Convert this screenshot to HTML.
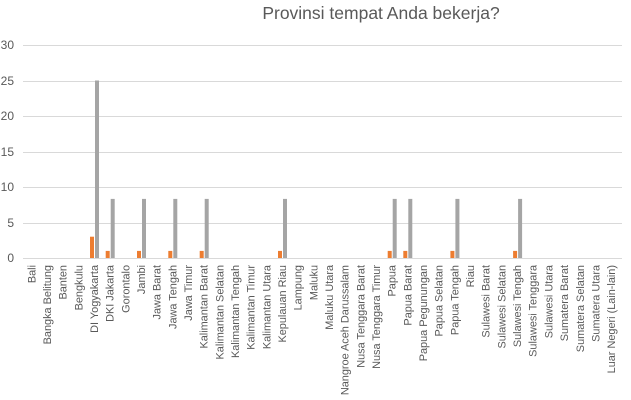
<!DOCTYPE html>
<html><head><meta charset="utf-8"><style>body{margin:0;background:#fff}svg{display:block}</style></head><body>
<svg width="631" height="400" xmlns="http://www.w3.org/2000/svg" font-family="Liberation Sans, sans-serif">
<text x="381" y="19" font-size="17.5" fill="#595959" text-anchor="middle">Provinsi tempat Anda bekerja?</text>
<g stroke="#d9d9d9" stroke-width="1">
<line x1="23" x2="622" y1="45.5" y2="45.5"/><line x1="23" x2="622" y1="81.5" y2="81.5"/><line x1="23" x2="622" y1="116.5" y2="116.5"/><line x1="23" x2="622" y1="152.5" y2="152.5"/><line x1="23" x2="622" y1="187.5" y2="187.5"/><line x1="23" x2="622" y1="223.5" y2="223.5"/><line x1="23" x2="622" y1="258.5" y2="258.5"/>
</g>
<g font-size="12" fill="#595959" text-anchor="end">
<text x="14" y="49">30</text><text x="14" y="85">25</text><text x="14" y="120">20</text><text x="14" y="156">15</text><text x="14" y="191">10</text><text x="14" y="227">5</text><text x="14" y="262">0</text>
</g>
<g fill="#ed7d31">
<rect x="90" y="236.7" width="4" height="21.3"/>
<rect x="105.7" y="250.9" width="4" height="7.1"/>
<rect x="137" y="250.9" width="4" height="7.1"/>
<rect x="168.3" y="250.9" width="4" height="7.1"/>
<rect x="199.7" y="250.9" width="4" height="7.1"/>
<rect x="278" y="250.9" width="4" height="7.1"/>
<rect x="387.7" y="250.9" width="4" height="7.1"/>
<rect x="403.3" y="250.9" width="4" height="7.1"/>
<rect x="450.4" y="250.9" width="4" height="7.1"/>
<rect x="513.1" y="250.9" width="4" height="7.1"/>
</g>
<g fill="#a5a5a5">
<rect x="95" y="80.5" width="4" height="177.5"/>
<rect x="110.7" y="198.9" width="4" height="59.1"/>
<rect x="142" y="198.9" width="4" height="59.1"/>
<rect x="173.3" y="198.9" width="4" height="59.1"/>
<rect x="204.7" y="198.9" width="4" height="59.1"/>
<rect x="283" y="198.9" width="4" height="59.1"/>
<rect x="392.7" y="198.9" width="4" height="59.1"/>
<rect x="408.3" y="198.9" width="4" height="59.1"/>
<rect x="455.4" y="198.9" width="4" height="59.1"/>
<rect x="518.1" y="198.9" width="4" height="59.1"/>
</g>
<g font-size="10.9" fill="#595959" text-anchor="end">
<text transform="translate(35.3,265) rotate(-90)">Bali</text>
<text transform="translate(51,265) rotate(-90)">Bangka Belitung</text>
<text transform="translate(66.6,265) rotate(-90)">Banten</text>
<text transform="translate(82.3,265) rotate(-90)">Bengkulu</text>
<text transform="translate(98,265) rotate(-90)">DI Yogyakarta</text>
<text transform="translate(113.7,265) rotate(-90)">DKI Jakarta</text>
<text transform="translate(129.3,265) rotate(-90)">Gorontalo</text>
<text transform="translate(145,265) rotate(-90)">Jambi</text>
<text transform="translate(160.7,265) rotate(-90)">Jawa Barat</text>
<text transform="translate(176.3,265) rotate(-90)">Jawa Tengah</text>
<text transform="translate(192,265) rotate(-90)">Jawa Timur</text>
<text transform="translate(207.7,265) rotate(-90)">Kalimantan Barat</text>
<text transform="translate(223.3,265) rotate(-90)">Kalimantan Selatan</text>
<text transform="translate(239,265) rotate(-90)">Kalimantan Tengah</text>
<text transform="translate(254.7,265) rotate(-90)">Kalimantan Timur</text>
<text transform="translate(270.4,265) rotate(-90)">Kalimantan Utara</text>
<text transform="translate(286,265) rotate(-90)">Kepulauan Riau</text>
<text transform="translate(301.7,265) rotate(-90)">Lampung</text>
<text transform="translate(317.4,265) rotate(-90)">Maluku</text>
<text transform="translate(333,265) rotate(-90)">Maluku Utara</text>
<text transform="translate(348.7,265) rotate(-90)">Nangroe Aceh Darussalam</text>
<text transform="translate(364.4,265) rotate(-90)">Nusa Tenggara Barat</text>
<text transform="translate(380,265) rotate(-90)">Nusa Tenggara Timur</text>
<text transform="translate(395.7,265) rotate(-90)">Papua</text>
<text transform="translate(411.4,265) rotate(-90)">Papua Barat</text>
<text transform="translate(427.1,265) rotate(-90)">Papua Pegunungan</text>
<text transform="translate(442.7,265) rotate(-90)">Papua Selatan</text>
<text transform="translate(458.4,265) rotate(-90)">Papua Tengah</text>
<text transform="translate(474.1,265) rotate(-90)">Riau</text>
<text transform="translate(489.7,265) rotate(-90)">Sulawesi Barat</text>
<text transform="translate(505.4,265) rotate(-90)">Sulawesi Selatan</text>
<text transform="translate(521.1,265) rotate(-90)">Sulawesi Tengah</text>
<text transform="translate(536.7,265) rotate(-90)">Sulawesi Tenggara</text>
<text transform="translate(552.4,265) rotate(-90)">Sulawesi Utara</text>
<text transform="translate(568.1,265) rotate(-90)">Sumatera Barat</text>
<text transform="translate(583.8,265) rotate(-90)">Sumatera Selatan</text>
<text transform="translate(599.4,265) rotate(-90)">Sumatera Utara</text>
<text transform="translate(615.1,265) rotate(-90)">Luar Negeri (Lain-lain)</text>
</g>
</svg>
</body></html>
